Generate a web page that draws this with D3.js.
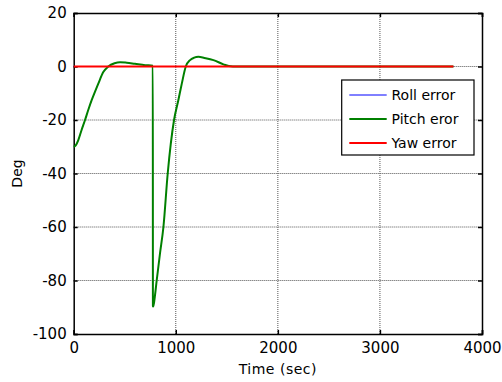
<!DOCTYPE html>
<html>
<head>
<meta charset="utf-8">
<script src="https://cdn.jsdelivr.net/npm/d3@7"></script>
<style>
  html, body { margin: 0; padding: 0; background: #fff; }
  svg text { font-family: "DejaVu Sans", sans-serif; fill: #000; }
</style>
</head>
<body>
<svg id="chart" width="502" height="382"></svg>
<script>
// Attitude error histories (deg) vs time (s)
const rollTime = [0, 3720];
const rollError = [0, 0];

const pitchTime = [0, 20, 45, 75, 111, 145, 176, 210, 241, 290, 339, 400, 454, 520, 600, 700, 775, 776, 780, 795, 813, 845, 879, 921, 983, 1025, 1059, 1098, 1140, 1180, 1222, 1280, 1369, 1467, 1520, 1600, 3720];
const pitchError = [-30, -29.5, -27.5, -24, -20, -16, -12.6, -9.3, -6.4, -2.1, 0, 1.2, 1.6, 1.4, 1.0, 0.5, 0.3, -89.7, -89.7, -86, -80, -70, -60, -40, -20, -12.6, -6.4, 0, 2.4, 3.3, 3.6, 3.2, 2.4, 0.8, 0.2, 0, 0];

const yawTime = [0, 3720];
const yawError = [0, 0];

const xTicks = [0, 1000, 2000, 3000, 4000];
const yTicks = [-100, -80, -60, -40, -20, 0, 20];

const seriesNames = ["Roll error", "Pitch eror", "Yaw error"];
const seriesColors = ["#0000ff", "#008000", "#ff0000"];

const svg = d3.select("#chart");
const m = { left: 73.7, right: 482, top: 13, bottom: 334 };

const x = d3.scaleLinear().domain([0, 4000]).range([m.left, m.right]);
const y = d3.scaleLinear().domain([-100, 20]).range([m.bottom, m.top]);

// grid
const grid = svg.append("g");
grid.selectAll("line.gx").data(xTicks.slice(1, -1)).join("line")
  .attr("x1", d => x(d)).attr("x2", d => x(d))
  .attr("y1", m.top).attr("y2", m.bottom)
  .attr("stroke", "#555").attr("stroke-width", 1).attr("stroke-dasharray", "1,1");
grid.selectAll("line.gy").data(yTicks.slice(1, -1)).join("line")
  .attr("y1", d => y(d)).attr("y2", d => y(d))
  .attr("x1", m.left).attr("x2", m.right)
  .attr("stroke", "#555").attr("stroke-width", 1).attr("stroke-dasharray", "1,1");

// axes (hyphen-minus labels)
const fmt = d => String(d);
const xAxis = d3.axisBottom(x).tickValues(xTicks).tickSize(-4).tickPadding(8).tickFormat(fmt);
const yAxis = d3.axisLeft(y).tickValues(yTicks).tickSize(-4).tickPadding(7).tickFormat(fmt);
const xTop = d3.axisTop(x).tickValues(xTicks).tickSize(-4).tickFormat("");
const yRight = d3.axisRight(y).tickValues(yTicks).tickSize(-4).tickFormat("");

const styleAxis = g => {
  g.select(".domain").attr("stroke", "#000").attr("stroke-width", 1.5);
  g.selectAll(".tick line").attr("stroke", "#000").attr("stroke-width", 1.5);
  g.selectAll(".tick text").style("font-size", "15px").attr("fill", "#000");
};

svg.append("g").attr("transform", `translate(0,${m.bottom})`).call(xAxis).call(styleAxis);
svg.append("g").attr("transform", `translate(${m.left},0)`).call(yAxis).call(styleAxis);
svg.append("g").attr("transform", `translate(0,${m.top})`).call(xTop).call(styleAxis);
svg.append("g").attr("transform", `translate(${m.right},0)`).call(yRight).call(styleAxis);

// series
const line = d3.line().x(d => x(d[0])).y(d => y(d[1])).curve(d3.curveMonotoneX);
const series = [
  { t: rollTime, v: rollError, c: seriesColors[0], w: 1 },
  { t: pitchTime, v: pitchError, c: seriesColors[1], w: 2 },
  { t: yawTime, v: yawError, c: seriesColors[2], w: 2 }
];
series.forEach(s => {
  svg.append("path")
    .datum(s.t.map((t, i) => [t, s.v[i]]))
    .attr("d", line)
    .attr("fill", "none")
    .attr("stroke", s.c)
    .attr("stroke-width", s.w)
    .attr("stroke-linejoin", "round");
});

// legend
const lg = svg.append("g");
lg.append("rect")
  .attr("x", 341.7).attr("y", 80).attr("width", 132.3).attr("height", 75)
  .attr("fill", "#fff").attr("stroke", "#000").attr("stroke-width", 1.2);
seriesNames.forEach((name, i) => {
  const yy = 95 + i * 24;
  lg.append("line")
    .attr("x1", 349.3).attr("x2", 386.7).attr("y1", yy).attr("y2", yy)
    .attr("stroke", seriesColors[i]).attr("stroke-width", i === 0 ? 1 : 2);
  lg.append("text")
    .attr("x", 391.5).attr("y", yy + 5)
    .style("font-size", "14px")
    .text(name);
});

// axis titles
svg.append("text")
  .attr("x", x(2000)).attr("y", 374)
  .attr("text-anchor", "middle")
  .style("font-size", "14px")
  .attr("letter-spacing", "0.5")
  .text("Time (sec)");
svg.append("text")
  .attr("transform", `translate(22,${y(-40)}) rotate(-90)`)
  .attr("text-anchor", "middle")
  .style("font-size", "14px")
  .text("Deg");
</script>
</body>
</html>
